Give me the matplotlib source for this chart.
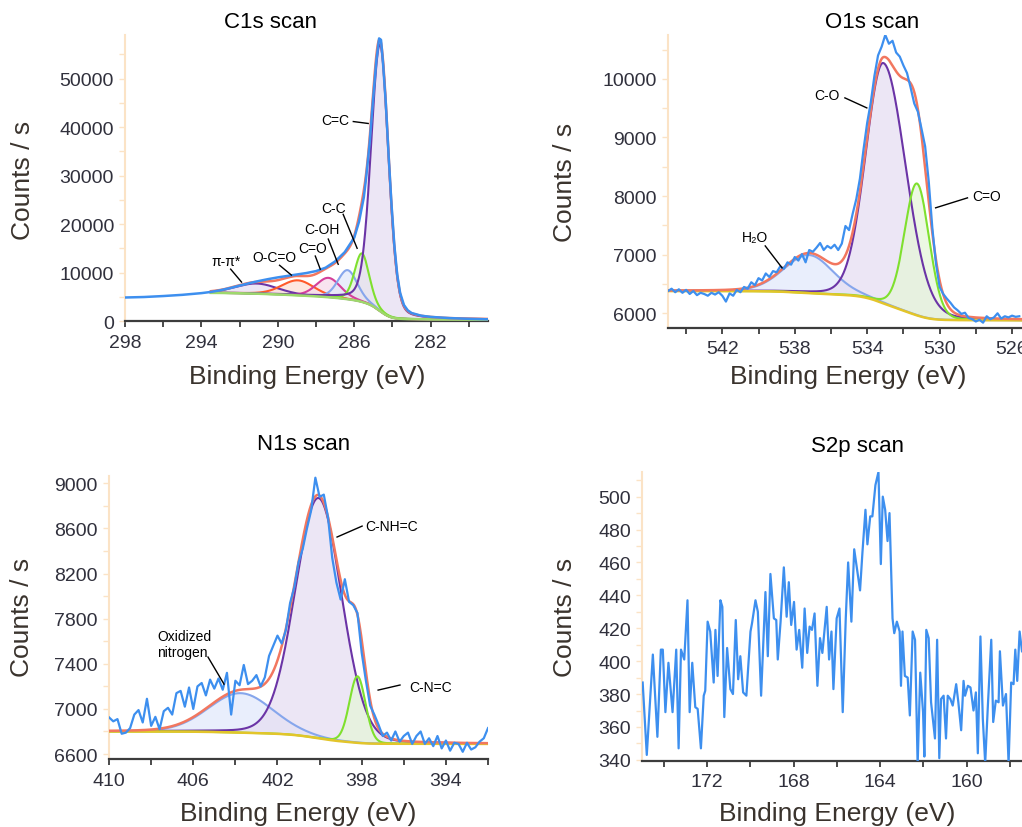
import numpy as np
import matplotlib
matplotlib.use("Agg")
import matplotlib.pyplot as plt

plt.rcParams['font.family'] = ['Liberation Sans', 'DejaVu Sans']

W, H = 1022, 828

# ---------------- C1s ----------------
c1s_be = [298.0, 297.0, 296.0, 295.0, 294.0, 293.5, 293.0, 292.5, 292.0, 291.5,
          291.0, 290.5, 290.0, 289.5, 289.0, 288.5, 288.0, 287.5, 287.0, 286.5,
          286.0, 285.75, 285.5, 285.38, 285.2, 285.0, 284.85, 284.7, 284.6, 284.5,
          284.35, 284.2, 284.05, 283.9, 283.75, 283.6, 283.4, 283.2, 283.0, 282.5,
          282.0, 281.0, 280.0, 279.0]
c1s_counts = [4850, 4950, 5150, 5400, 5750, 6000, 6350, 6800, 7300, 7800,
              8250, 8650, 9000, 9300, 9600, 9900, 10300, 11000, 12300, 14200,
              17200, 20500, 25500, 29500, 36500, 46500, 53500, 58300, 58000, 53500,
              45000, 34000, 24000, 15500, 9500, 5800, 3300, 2200, 1650, 1100,
              850, 600, 450, 350]
c1s_names = ['π-π*', 'O-C=O', 'C=O', 'C-OH', 'C-C', 'C=C']
c1s_center = [291.1, 288.95, 287.35, 286.35, 285.6, 284.65]
c1s_height = [2100, 3100, 4000, 6000, 10000, 55000]
c1s_fwhm_hi = [2.6, 2.0, 1.5, 1.2, 0.9, 1.1]
c1s_fwhm_lo = [2.6, 2.0, 1.5, 1.2, 0.9, 1.05]
c1s_lor = [0.2, 0.2, 0.2, 0.2, 0.2, 0.2]
c1s_fit_range = (279.0, 293.5)
c1s_bg_ends = (300, 5800)

# ---------------- O1s ----------------
o1s_be = [545.0, 544.8, 544.6, 544.4, 544.2, 544.0, 543.8, 543.6, 543.4, 543.2,
          543.0, 542.8, 542.6, 542.4, 542.2, 542.0, 541.8, 541.6, 541.4, 541.2,
          541.0, 540.8, 540.6, 540.4, 540.2, 540.0, 539.8, 539.6, 539.4, 539.2,
          539.0, 538.8, 538.6, 538.4, 538.2, 538.0, 537.8, 537.6, 537.4, 537.2,
          537.0, 536.8, 536.6, 536.4, 536.2, 536.0, 535.8, 535.6, 535.4, 535.2,
          535.0, 534.8, 534.6, 534.4, 534.2, 534.0, 533.8, 533.6, 533.4, 533.2,
          533.0, 532.8, 532.6, 532.4, 532.2, 532.0, 531.8, 531.6, 531.4, 531.2,
          531.0, 530.8, 530.6, 530.4, 530.2, 530.0, 529.8, 529.6, 529.4, 529.2,
          529.0, 528.8, 528.6, 528.4, 528.2, 528.0, 527.8, 527.6, 527.4, 527.2,
          527.0, 526.8, 526.6, 526.4, 526.2, 526.0, 525.8, 525.6]
o1s_counts = [6380, 6420, 6360, 6410, 6350, 6400, 6330, 6380, 6310, 6350,
              6330, 6300, 6350, 6320, 6360, 6300, 6200, 6340, 6300, 6400,
              6360, 6450, 6420, 6530, 6480, 6600, 6560, 6680, 6620, 6720,
              6700, 6800, 6760, 6870, 6830, 6960, 6900, 7010, 6870, 7080,
              7050, 7120, 7200, 7080, 7150, 7110, 7170, 7080, 7190, 7490,
              7420, 7700, 7950, 8300, 8800, 9250, 9600, 10050, 10400, 10550,
              10750, 10600, 10650, 10450, 10380, 10230, 10100, 9850, 9580, 9440,
              9150, 8850, 8250, 7450, 6850, 6450, 6330, 6250, 6180, 6100,
              6050, 5990, 6010, 5920, 5900, 5860, 5890, 5840, 5950, 5900,
              5930, 6000, 5910, 5950, 5930, 5960, 5940, 5950]
o1s_names = ['H₂O', 'C-O', 'C=O']
o1s_center = [537.2, 533.1, 531.25]
o1s_height = [650, 4100, 2250]
o1s_fwhm_hi = [3.3, 2.3, 1.6]
o1s_fwhm_lo = [3.1, 2.9, 1.6]
o1s_lor = [0.15, 0.1, 0.1]
o1s_fit_range = (525.45, 545.0)
o1s_bg_ends = (5880, 6380)

# ---------------- N1s ----------------
n1s_be = [410.0, 409.8, 409.6, 409.4, 409.2, 409.0, 408.8, 408.6, 408.4, 408.2,
          408.0, 407.8, 407.6, 407.4, 407.2, 407.0, 406.8, 406.6, 406.4, 406.2,
          406.0, 405.8, 405.6, 405.4, 405.2, 405.0, 404.8, 404.6, 404.4, 404.2,
          404.0, 403.8, 403.6, 403.4, 403.2, 403.0, 402.8, 402.6, 402.4, 402.2,
          402.0, 401.8, 401.6, 401.4, 401.2, 401.0, 400.8, 400.6, 400.4, 400.2,
          400.0, 399.8, 399.6, 399.4, 399.2, 399.0, 398.8, 398.6, 398.4, 398.2,
          398.0, 397.8, 397.6, 397.4, 397.2, 397.0, 396.8, 396.6, 396.4, 396.2,
          396.0, 395.8, 395.6, 395.4, 395.2, 395.0, 394.8, 394.6, 394.4, 394.2,
          394.0, 393.8, 393.6, 393.4, 393.2, 393.0, 392.8, 392.6, 392.4, 392.2,
          392.0]
n1s_counts = [6925, 6890, 6910, 6780, 6790, 6830, 6950, 6990, 6880, 7090,
              6850, 6930, 6820, 6980, 7010, 6950, 7140, 7160, 7020, 7190,
              7000, 7200, 7230, 7120, 7260, 7180, 7270, 7170, 7320, 6950,
              7250, 7210, 7390, 7220, 7250, 7300, 7200, 7280, 7470, 7560,
              7650, 7580, 7700, 7940, 8080, 8300, 8420, 8600, 8760, 9050,
              8880, 8900, 8700, 8340, 8120, 7970, 8150, 7950, 7920, 7850,
              7500, 7250, 7030, 6950, 6860, 6760, 6790, 6720, 6800, 6710,
              6760, 6790, 6690, 6760, 6800, 6690, 6740, 6670, 6760, 6650,
              6720, 6630, 6700, 6690, 6620, 6700, 6640, 6660, 6710, 6740,
              6830]
n1s_names = ['Oxidized\nnitrogen', 'C-NH=C', 'C-N=C']
n1s_center = [403.75, 400.05, 398.2]
n1s_height = [350, 2130, 590]
n1s_fwhm_hi = [3.6, 2.6, 0.9]
n1s_fwhm_lo = [3.6, 2.6, 0.9]
n1s_lor = [0.1, 0.1, 0.1]
n1s_fit_range = (392.0, 410.0)
n1s_bg_ends = (6690, 6800)

# ---------------- S2p ----------------
s2p_be = [174.97, 174.78, 174.50, 174.29, 174.13, 174.04, 173.92, 173.78, 173.59, 173.42,
          173.31, 173.20, 173.05, 172.90, 172.80, 172.68, 172.54, 172.43, 172.28, 172.15,
          172.08, 171.97, 171.85, 171.69, 171.61, 171.51, 171.38, 171.29, 171.20, 171.07,
          170.92, 170.80, 170.67, 170.56, 170.46, 170.33, 170.18, 169.99, 169.92, 169.76,
          169.65, 169.50, 169.30, 169.19, 169.07, 168.91, 168.80, 168.73, 168.60, 168.45,
          168.32, 168.22, 168.11, 167.98, 167.86, 167.74, 167.60, 167.49, 167.37, 167.26,
          167.15, 167.03, 166.90, 166.78, 166.67, 166.47, 166.36, 166.25, 166.16, 166.01,
          165.88, 165.73, 165.59, 165.48, 165.33, 165.20, 165.05, 164.93, 164.82, 164.68,
          164.59, 164.46, 164.36, 164.22, 164.08, 163.97, 163.88, 163.77, 163.66, 163.57,
          163.43, 163.35, 163.23, 163.10, 163.04, 162.97, 162.86, 162.73, 162.63, 162.50,
          162.39, 162.27, 162.15, 162.02, 161.96, 161.87, 161.76, 161.65, 161.56, 161.47,
          161.37, 161.27, 161.19, 161.07, 160.96, 160.88, 160.76, 160.65, 160.49, 160.39,
          160.26, 160.15, 160.08, 159.95, 159.83, 159.69, 159.58, 159.49, 159.37, 159.26,
          159.15, 159.03, 158.87, 158.78, 158.66, 158.53, 158.47, 158.33, 158.19, 158.07,
          157.95, 157.84, 157.76, 157.67, 157.56, 157.45]
s2p_counts = [387, 343, 404, 354, 407, 407, 369, 399, 369, 407,
              347, 407, 401, 437, 369, 399, 372, 371, 347, 379,
              382, 424, 418, 387, 419, 391, 437, 433, 366, 408,
              383, 380, 425, 389, 403, 381, 379, 418, 423, 437,
              430, 379, 442, 403, 453, 426, 425, 401, 424, 457,
              427, 448, 422, 436, 407, 419, 396, 432, 405, 421,
              419, 429, 385, 414, 405, 433, 401, 418, 383, 426,
              432, 369, 426, 460, 424, 468, 454, 443, 466, 492,
              471, 488, 488, 507, 515, 459, 500, 492, 473, 490,
              426, 417, 424, 418, 385, 418, 391, 390, 367, 418,
              413, 337, 393, 369, 342, 419, 414, 375, 364, 353,
              413, 341, 377, 379, 353, 379, 377, 373, 386, 375,
              358, 388, 379, 385, 384, 370, 381, 344, 415, 365,
              338, 372, 413, 363, 376, 375, 406, 373, 380, 338,
              387, 386, 407, 388, 418, 406]

# ---------------- styling ----------------
DATA_C = '#3d8fef'
ENV_C = '#f2775f'
PURPLE = '#6b34a6'
GREEN = '#7fe02e'
LBLUE = '#86a6ec'
RED = '#ff5a2a'
MAGENTA = '#d4409a'
YELLOW = '#e3c52a'
LGREEN = '#9ed86c'
FILLS = {PURPLE: '#e6def2', GREEN: '#e6f6da', LBLUE: '#e2e9fb',
         RED: '#fde0d6', MAGENTA: '#f6dbea'}
TICK_C = '#30303c'
LABEL_C = '#3a332d'
YSPINE_C = '#fbe3c6'


def gl(x, c, h, fhi, flo, m):
    f = np.where(x >= c, fhi, flo)
    u = (x - c) / f
    return h * ((1 - m) * np.exp(-4 * np.log(2) * u ** 2) + m / (1 + 4 * u ** 2))


def fit_model(rng, centers, heights, fhi, flo, lor, bg_ends):
    xs = np.linspace(rng[0], rng[1], 900)
    peaks = [gl(xs, c, h, a, b, m) for c, h, a, b, m in zip(centers, heights, fhi, flo, lor)]
    tot = np.sum(peaks, axis=0)
    cum = np.concatenate([[0.0], np.cumsum((tot[1:] + tot[:-1]) / 2 * np.diff(xs))])
    bg = bg_ends[0] + (bg_ends[1] - bg_ends[0]) * cum / cum[-1]
    return xs, bg, peaks, tot


def style_axis(ax, xlim, ylim, xmaj, xmin, ymaj, ymin):
    ax.set_xlim(*xlim)
    ax.set_ylim(*ylim)
    for s in ('top', 'right'):
        ax.spines[s].set_visible(False)
    ax.spines['left'].set_color(YSPINE_C)
    ax.spines['left'].set_linewidth(1.5)
    ax.spines['bottom'].set_color('#3c3c3c')
    ax.spines['bottom'].set_linewidth(1.6)
    ax.set_xticks(xmaj)
    ax.set_xticks(xmin, minor=True)
    ax.set_yticks(ymaj)
    ax.set_yticks(ymin, minor=True)
    ax.tick_params(axis='x', which='both', direction='out', length=4, width=1.3,
                   color='#3c3c3c', labelsize=14, labelcolor=TICK_C, pad=5)
    ax.tick_params(axis='y', which='both', direction='out', length=4, width=1.0,
                   color=YSPINE_C, labelsize=14, labelcolor=TICK_C, pad=4)
    ax.set_facecolor('white')


def draw_fit(ax, rng, centers, heights, fhi, flo, lor, bg_ends, colors, bg_color):
    xs, bg, peaks, tot = fit_model(rng, centers, heights, fhi, flo, lor, bg_ends)
    for p, col in zip(peaks, colors):
        ax.fill_between(xs, bg, bg + p, color=FILLS[col], alpha=0.75, lw=0, zorder=1)
    for p, col in zip(peaks, colors):
        ax.plot(xs, bg + p, color=col, lw=1.5, zorder=3)
    ax.plot(xs, bg, color=bg_color, lw=1.8, zorder=3)
    ax.plot(xs, bg + tot, color=ENV_C, lw=1.8, zorder=4)


def annotate(ax, items):
    for text, tx, ty, ha, x1, y1, x2, y2 in items:
        ax.text(tx, ty, text, ha=ha, va='center', fontsize=10, color='black',
                linespacing=1.15, zorder=6)
        ax.plot([x1, x2], [y1, y2], color='black', lw=1.0, zorder=6)


fig = plt.figure(figsize=(W / 100, H / 100), dpi=100)
fig.patch.set_facecolor('white')

ax1 = fig.add_axes([0.1223, 0.6111, 0.3552, 0.3454])
ax2 = fig.add_axes([0.6536, 0.6027, 0.3464, 0.3539])
ax3 = fig.add_axes([0.1067, 0.0821, 0.3708, 0.3418])
ax4 = fig.add_axes([0.6282, 0.0801, 0.3718, 0.3487])

# C1s
style_axis(ax1, (298, 279), (0, 59000), [298, 294, 290, 286, 282], [296, 292, 288, 284, 280],
           [0, 10000, 20000, 30000, 40000, 50000], np.arange(0, 59000, 5000))
draw_fit(ax1, c1s_fit_range, c1s_center, c1s_height, c1s_fwhm_hi, c1s_fwhm_lo, c1s_lor,
         c1s_bg_ends, [PURPLE, RED, MAGENTA, LBLUE, GREEN, PURPLE], LGREEN)
ax1.plot(c1s_be, c1s_counts, color=DATA_C, lw=1.8, zorder=5)
annotate(ax1, [
    ('C=C', 287.0, 41400, 'center', 286.05, 41150, 285.27, 40750),
    ('C-C', 287.1, 23250, 'center', 286.58, 22000, 285.85, 15000),
    ('C-OH', 287.67, 18900, 'center', 287.36, 16900, 286.84, 11700),
    ('C=O', 288.2, 15000, 'center', 288.04, 13400, 287.78, 10700),
    ('O-C=O', 290.18, 13200, 'center', 289.91, 11500, 289.29, 9470),
    ('π-π*', 292.73, 12350, 'center', 292.47, 10700, 291.9, 8030),
])

# O1s
style_axis(ax2, (545, 525.45), (5750, 10750), [542, 538, 534, 530, 526], [544, 540, 536, 532, 528],
           [6000, 7000, 8000, 9000, 10000], np.arange(6000, 10750, 500))
draw_fit(ax2, o1s_fit_range, o1s_center, o1s_height, o1s_fwhm_hi, o1s_fwhm_lo, o1s_lor,
         o1s_bg_ends, [LBLUE, PURPLE, GREEN], YELLOW)
ax2.plot(o1s_be, o1s_counts, color=DATA_C, lw=1.6, zorder=5)
annotate(ax2, [
    ('C-O', 536.22, 9727, 'center', 535.23, 9676, 534.02, 9505),
    ('C=O', 527.42, 8004, 'center', 528.46, 7970, 530.22, 7800),
    ('H₂O', 540.18, 7305, 'center', 539.63, 7150, 538.7, 6776),
])

# N1s
style_axis(ax3, (410, 392), (6556, 9065), [410, 406, 402, 398, 394], [408, 404, 400, 396, 392],
           [6600, 7000, 7400, 7800, 8200, 8600, 9000], np.arange(6600, 9065, 200))
draw_fit(ax3, n1s_fit_range, n1s_center, n1s_height, n1s_fwhm_hi, n1s_fwhm_lo, n1s_lor,
         n1s_bg_ends, [LBLUE, PURPLE, GREEN], YELLOW)
ax3.plot(n1s_be, n1s_counts, color=DATA_C, lw=1.6, zorder=5)
annotate(ax3, [
    ('C-NH=C', 396.56, 8621, 'center', 397.98, 8621, 399.17, 8524),
    ('C-N=C', 394.75, 7194, 'center', 396.18, 7212, 397.22, 7167),
    ('Oxidized\nnitrogen', 407.72, 7575, 'left', 405.3, 7460, 404.54, 7220),
])

# S2p
style_axis(ax4, (175, 157.45), (339.5, 515), [172, 168, 164, 160], [174, 170, 166, 162, 158],
           np.arange(340, 501, 20), np.arange(340, 515, 10))
ax4.plot(s2p_be, s2p_counts, color=DATA_C, lw=1.6, zorder=5)

# titles and labels (figure coordinates from pixel positions)
def ftext(x, y, s, **kw):
    fig.text(x / W, 1 - y / H, s, ha='center', va='center', **kw)

ftext(270, 22, 'C1s scan', fontsize=16, color='black')
ftext(872, 22, 'O1s scan', fontsize=16, color='black')
ftext(304, 445, 'N1s scan', fontsize=16, color='black')
ftext(857, 447, 'S2p scan', fontsize=16, color='black')

for x, y in [(307, 377), (848, 377), (298, 814), (837, 814)]:
    ftext(x, y, 'Binding Energy (eV)', fontsize=19, color=LABEL_C)
for x, y in [(23, 180), (565, 182), (22, 617), (565, 617)]:
    ftext(x, y, 'Counts / s', fontsize=19, color=LABEL_C, rotation=90)

fig.savefig('out.png', dpi=100, facecolor='white')
